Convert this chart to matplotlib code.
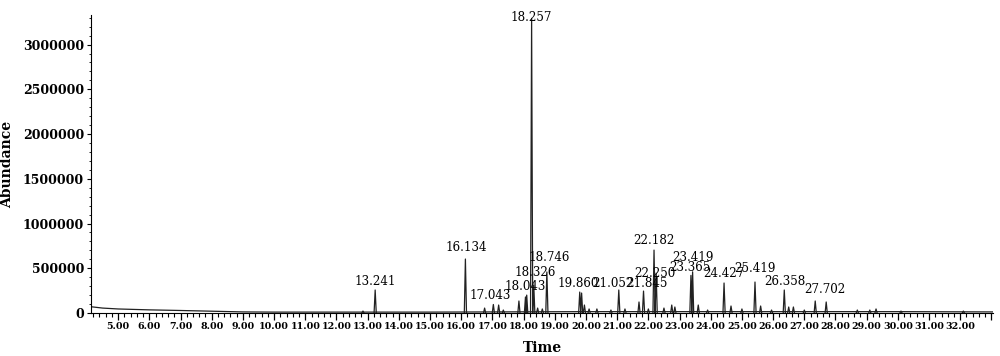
import numpy as np
import matplotlib
matplotlib.use("Agg")
import matplotlib.pyplot as plt
from matplotlib.ticker import MultipleLocator, FuncFormatter

# baseline of the chromatogram (time in min, abundance)
base_t = [4.13, 4.5, 5.0, 6.0, 7.0, 8.0, 9.0, 10.0, 12.0, 15.0, 20.0, 25.0, 30.0, 33.05]
base_y = [70000, 55000, 45000, 35000, 28000, 20000, 12000, 10000, 10000, 10000, 15000, 15000, 15000, 12000]

# peak apexes
peak_t = [12.85, 13.241, 16.134, 16.75, 17.03, 17.2, 17.35, 17.85, 18.06, 18.1,
          18.257, 18.326, 18.45, 18.6, 18.746, 19.80, 19.86, 19.95, 20.1, 20.35,
          20.8, 21.052, 21.25, 21.70, 21.845, 22.0, 22.182, 22.25, 22.5, 22.75,
          22.85, 23.365, 23.419, 23.6, 23.9, 24.427, 24.65, 25.0, 25.419, 25.6,
          25.95, 26.358, 26.5, 26.65, 27.0, 27.35, 27.702, 28.7, 29.1, 29.3,
          30.1, 32.1]
peak_y = [22000, 257000, 603000, 55000, 95000, 89000, 33000, 134000, 179000, 200000,
          3293000, 312000, 55000, 45000, 458000, 234000, 223000, 89000, 45000, 45000,
          33000, 257000, 45000, 123000, 245000, 45000, 703000, 446000, 55000, 89000,
          67000, 420000, 460000, 89000, 33000, 335000, 78000, 45000, 346000, 78000,
          33000, 257000, 67000, 67000, 33000, 134000, 123000, 33000, 33000, 45000,
          22000, 22000]

# retention time labels: text, x, y (centre)
labels = ["13.241", "16.134", "17.043", "18.043", "18.326", "18.746", "19.860",
          "21.052", "21.845", "22.182", "22.250", "23.365", "23.419", "24.427",
          "25.419", "26.358", "27.702", "18.257"]
label_x = [13.24, 16.16, 16.93, 18.05, 18.37, 18.82, 19.74, 20.88, 21.97, 22.17,
           22.22, 23.33, 23.42, 24.43, 25.41, 26.39, 27.67, 18.23]
label_y = [357000, 737000, 201000, 301000, 458000, 625000, 335000, 335000, 335000,
           815000, 446000, 513000, 625000, 446000, 502000, 357000, 257000, 3304000]

fig = plt.figure(figsize=(10, 3.56), dpi=100)
ax = fig.add_axes([0.091, 0.1208, 0.902, 0.837])

ax.plot(base_t, base_y, color="#222222", lw=0.9)

# each peak as a narrow spike
w = 0.035
px, py = [], []
for t, h in zip(peak_t, peak_y):
    px += [t - w, t, t + w, np.nan]
    py += [0, h, 0, np.nan]
ax.plot(px, py, color="#222222", lw=0.9)

for txt, x, y in zip(labels, label_x, label_y):
    ax.text(x, y, txt, ha="center", va="center", fontsize=8.6,
            family="DejaVu Serif", clip_on=False)

ax.set_xlim(4.13, 33.05)
ax.set_ylim(0, 3330000)
ax.spines["top"].set_visible(False)
ax.spines["right"].set_visible(False)

ax.xaxis.set_major_locator(MultipleLocator(1.0))
ax.xaxis.set_minor_locator(MultipleLocator(0.2))
ax.xaxis.set_major_formatter(FuncFormatter(lambda v, p: "%.2f" % v if v < 32.5 else ""))
ax.yaxis.set_major_locator(MultipleLocator(500000))
ax.yaxis.set_minor_locator(MultipleLocator(100000))
ax.yaxis.set_major_formatter(FuncFormatter(lambda v, p: "%d" % v))
ax.tick_params(axis="x", which="major", length=5, width=0.9, labelsize=6.8, pad=1.5)
ax.tick_params(axis="x", which="minor", length=3, width=0.8)
ax.tick_params(axis="y", which="major", length=3, width=0.8, labelsize=9, pad=2)
ax.tick_params(axis="y", which="minor", length=1.5, width=0.6)
for lab in ax.get_xticklabels() + ax.get_yticklabels():
    lab.set_family("DejaVu Serif")
    lab.set_fontweight("bold")

ax.set_xlabel("Time", family="DejaVu Serif", fontweight="bold", fontsize=10, labelpad=7)
ax.set_ylabel("Abundance", family="DejaVu Serif", fontweight="bold", fontsize=10, labelpad=6)

fig.savefig("out.png", dpi=100)
